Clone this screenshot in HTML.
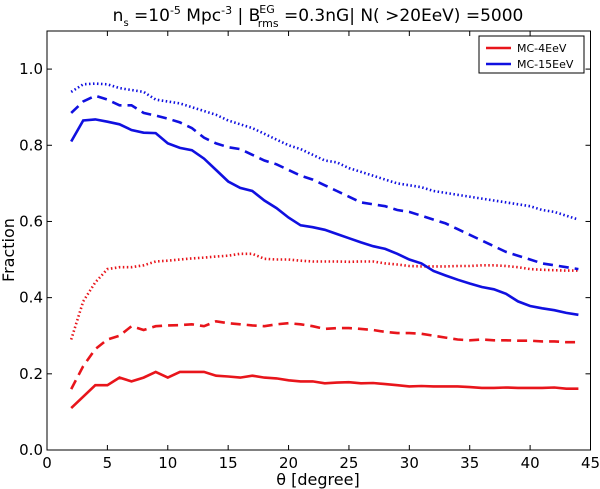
<!DOCTYPE html>
<html><head><meta charset="utf-8"><style>
body{margin:0;background:#fff;width:600px;height:489px;overflow:hidden}
svg{display:block;font-family:"DejaVu Sans","Liberation Sans",sans-serif}
</style></head><body>
<svg id="chart" width="600" height="489" viewBox="0 0 600 489">
<text x="318" y="21" text-anchor="middle" font-size="17">n<tspan font-size="10" dy="5">s</tspan><tspan dy="-5"> =10</tspan><tspan font-size="11" dy="-7">-5</tspan><tspan dy="7"> Mpc</tspan><tspan font-size="11" dy="-7">-3</tspan><tspan dy="7">  | B</tspan><tspan font-size="11" dx="-1" dy="-8">EG</tspan><tspan font-size="11" dx="-17" dy="14">rms</tspan><tspan dy="-6"> =0.3nG| N( &gt;20EeV) =5000</tspan></text>
<text transform="translate(14,250) rotate(-90)" text-anchor="middle" font-size="16">Fraction</text>
<text x="318" y="485" text-anchor="middle" font-size="16">θ [degree]</text>
<g id="plot"></g>
</svg>
<script>
const thetas = [];
for (let t = 2; t <= 44; t++) thetas.push(t);
const red4Solid = [0.11,0.14,0.17,0.17,0.19,0.18,0.19,0.205,0.19,0.205,0.205,0.205,0.195,0.193,0.19,0.195,0.19,0.188,0.183,0.18,0.18,0.175,0.177,0.178,0.175,0.176,0.173,0.17,0.167,0.168,0.167,0.167,0.167,0.165,0.163,0.163,0.164,0.163,0.163,0.163,0.164,0.161,0.161];
const red4Dashed = [0.16,0.22,0.265,0.29,0.30,0.325,0.315,0.325,0.327,0.328,0.33,0.325,0.338,0.333,0.33,0.327,0.325,0.33,0.333,0.33,0.325,0.318,0.32,0.32,0.318,0.315,0.31,0.307,0.307,0.305,0.3,0.295,0.29,0.288,0.29,0.288,0.288,0.287,0.287,0.285,0.285,0.283,0.283];
const red4Dotted = [0.29,0.39,0.44,0.475,0.48,0.48,0.485,0.495,0.497,0.5,0.503,0.505,0.508,0.51,0.515,0.515,0.502,0.5,0.5,0.497,0.495,0.495,0.495,0.494,0.495,0.495,0.49,0.487,0.483,0.482,0.482,0.482,0.483,0.483,0.485,0.485,0.483,0.48,0.475,0.473,0.472,0.471,0.471];
const blue15Solid = [0.81,0.865,0.868,0.862,0.855,0.84,0.833,0.832,0.805,0.793,0.787,0.765,0.735,0.705,0.688,0.68,0.655,0.635,0.61,0.59,0.585,0.578,0.567,0.556,0.545,0.535,0.528,0.515,0.5,0.49,0.47,0.458,0.447,0.437,0.428,0.422,0.41,0.39,0.378,0.372,0.367,0.36,0.355];
const blue15Dashed = [0.885,0.915,0.93,0.92,0.905,0.905,0.885,0.878,0.87,0.86,0.845,0.82,0.805,0.795,0.79,0.775,0.76,0.75,0.735,0.72,0.71,0.695,0.68,0.665,0.65,0.645,0.64,0.63,0.625,0.615,0.605,0.595,0.58,0.565,0.55,0.535,0.52,0.51,0.5,0.49,0.485,0.48,0.475];
const blue15Dotted = [0.94,0.96,0.962,0.96,0.95,0.945,0.94,0.92,0.915,0.91,0.9,0.89,0.88,0.865,0.855,0.845,0.83,0.815,0.8,0.79,0.775,0.76,0.755,0.74,0.73,0.72,0.71,0.7,0.695,0.69,0.68,0.675,0.67,0.665,0.66,0.655,0.65,0.645,0.64,0.63,0.625,0.615,0.605];
const xTicks = [0,5,10,15,20,25,30,35,40,45];
const yTicks = [0.0,0.2,0.4,0.6,0.8,1.0];
const legendLabels = ["MC-4EeV","MC-15EeV"];

const NS = "http://www.w3.org/2000/svg";
const L = 47, R = 590.5, T = 31, B = 450;
const xMin = 0, xMax = 45, yMin = 0, yMax = 1.1;
const sx = v => L + (v - xMin) / (xMax - xMin) * (R - L);
const sy = v => B - (v - yMin) / (yMax - yMin) * (B - T);
const g = document.getElementById("plot");
function mk(tag, attrs) { const e = document.createElementNS(NS, tag); for (const k in attrs) e.setAttribute(k, attrs[k]); g.appendChild(e); return e; }

const series = [
  {d: red4Solid, c: "#e8151b", dash: "", name: "series-4eev-solid"},
  {d: red4Dashed, c: "#e8151b", dash: "10 6", name: "series-4eev-dashed"},
  {d: red4Dotted, c: "#e8151b", dash: "1.5 2.5", name: "series-4eev-dotted"},
  {d: blue15Solid, c: "#1010e0", dash: "", name: "series-15eev-solid"},
  {d: blue15Dashed, c: "#1010e0", dash: "10 6", name: "series-15eev-dashed"},
  {d: blue15Dotted, c: "#1010e0", dash: "1.5 2.5", name: "series-15eev-dotted"}
];
series.forEach(s => {
  const pts = s.d.map((v, i) => sx(thetas[i]).toFixed(1) + "," + sy(v).toFixed(1)).join(" ");
  const p = mk("polyline", {points: pts, fill: "none", stroke: s.c, "stroke-width": 2.6, "stroke-dasharray": s.dash});
  
  
});

const frame = mk("rect", {x: L, y: T, width: R - L, height: B - T, fill: "none", stroke: "#000", "stroke-width": 1});



xTicks.forEach(t => {
  const x = sx(t);
  mk("line", {x1: x, x2: x, y1: B, y2: B - 5, stroke: "#000"});
  mk("line", {x1: x, x2: x, y1: T, y2: T + 5, stroke: "#000"});
  const lb = mk("text", {x: x, y: B + 18, "text-anchor": "middle", "font-size": 15});
  lb.textContent = t;
  
  
});
yTicks.forEach(t => {
  const y = sy(t);
  mk("line", {x1: L, x2: L + 5, y1: y, y2: y, stroke: "#000"});
  mk("line", {x1: R, x2: R - 5, y1: y, y2: y, stroke: "#000"});
  const lb = mk("text", {x: L - 4, y: y + 5, "text-anchor": "end", "font-size": 15});
  lb.textContent = t.toFixed(1);
  
  
});

const lg = mk("rect", {x: 479, y: 36, width: 105, height: 37, fill: "#fff", stroke: "#000"});


const lgColors = ["#e8151b", "#1010e0"];
legendLabels.forEach((lab, i) => {
  const y = 48 + i * 16;
  mk("line", {x1: 486, x2: 511, y1: y, y2: y, stroke: lgColors[i], "stroke-width": 2.6});
  const t = mk("text", {x: 517, y: y + 4, "font-size": 11});
  t.textContent = lab;
  
  
});
</script>
</body></html>
